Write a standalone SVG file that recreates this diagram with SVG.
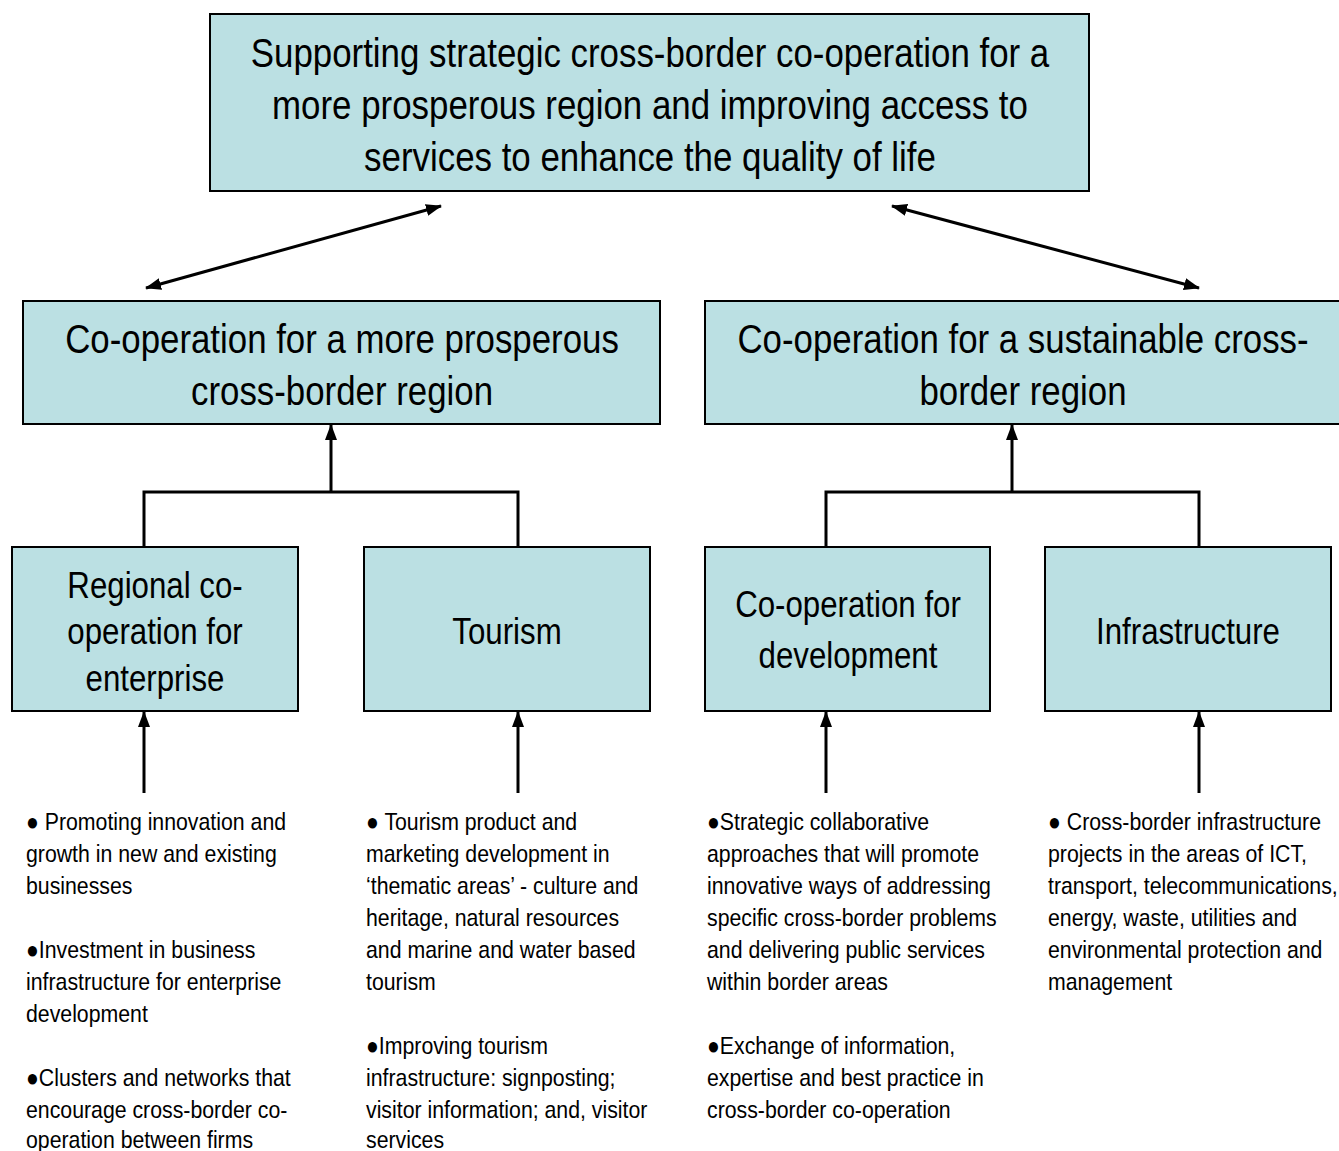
<svg xmlns="http://www.w3.org/2000/svg" width="1339" height="1151" viewBox="0 0 1339 1151">
<style>
.box{fill:#BBE0E3;stroke:#000;stroke-width:2}
.t{font-family:"Liberation Sans",Arial,sans-serif;fill:#000}
.h{font-size:40px;text-anchor:middle}
.m{font-size:36px;text-anchor:middle}
.b{font-size:24px}
.c{stroke:#000;stroke-width:3;fill:none}
</style>
<defs>
<marker id="ah" viewBox="0 0 16 12" refX="15" refY="6" markerWidth="16" markerHeight="12" markerUnits="userSpaceOnUse" orient="auto-start-reverse">
<path d="M0,0 L16,6 L0,12 z" fill="#000"/>
</marker>
</defs>
<rect width="1339" height="1151" fill="#fff"/>
<g id="top">
<rect class="box" x="210" y="14" width="879" height="177"/>
<g transform="translate(650,0) scale(0.872,1)">
<text class="t h" x="0" y="67">Supporting strategic cross-border co-operation for a</text>
<text class="t h" x="0" y="119">more prosperous region and improving access to</text>
<text class="t h" x="0" y="171">services to enhance the quality of life</text>
</g>
</g>
<g id="prosperous">
<rect class="box" x="23" y="301" width="637" height="123"/>
<g transform="translate(342,0) scale(0.871,1)">
<text class="t h" x="0" y="353">Co-operation for a more prosperous</text>
<text class="t h" x="0" y="405">cross-border region</text>
</g>
</g>
<g id="sustainable">
<rect class="box" x="705" y="301" width="640" height="123"/>
<g transform="translate(1023,0) scale(0.871,1)">
<text class="t h" x="0" y="353">Co-operation for a sustainable cross-</text>
<text class="t h" x="0" y="405">border region</text>
</g>
</g>
<g id="enterprise">
<rect class="box" x="12" y="547" width="286" height="164"/>
<g transform="translate(155,0) scale(0.868,1)">
<text class="t m" x="0" y="598">Regional co-</text>
<text class="t m" x="0" y="644">operation for</text>
<text class="t m" x="0" y="691">enterprise</text>
</g>
</g>
<g id="tourism">
<rect class="box" x="364" y="547" width="286" height="164"/>
<g transform="translate(507,0) scale(0.868,1)">
<text class="t m" x="0" y="644">Tourism</text>
</g>
</g>
<g id="development">
<rect class="box" x="705" y="547" width="285" height="164"/>
<g transform="translate(848,0) scale(0.868,1)">
<text class="t m" x="0" y="617">Co-operation for</text>
<text class="t m" x="0" y="668">development</text>
</g>
</g>
<g id="infrastructure">
<rect class="box" x="1045" y="547" width="286" height="164"/>
<g transform="translate(1188,0) scale(0.868,1)">
<text class="t m" x="0" y="644">Infrastructure</text>
</g>
</g>
<g id="connectors">
<line class="c" x1="146" y1="288" x2="441" y2="206" marker-start="url(#ah)" marker-end="url(#ah)"/>
<line class="c" x1="892" y1="206" x2="1199" y2="288" marker-start="url(#ah)" marker-end="url(#ah)"/>
<line class="c" x1="331" y1="492" x2="331" y2="425" marker-end="url(#ah)"/>
<path class="c" d="M144,547 V492 H518 V547"/>
<line class="c" x1="1012" y1="492" x2="1012" y2="425" marker-end="url(#ah)"/>
<path class="c" d="M826,547 V492 H1199 V547"/>
<line class="c" x1="144" y1="793" x2="144" y2="712" marker-end="url(#ah)"/>
<line class="c" x1="518" y1="793" x2="518" y2="712" marker-end="url(#ah)"/>
<line class="c" x1="826" y1="793" x2="826" y2="712" marker-end="url(#ah)"/>
<line class="c" x1="1199" y1="793" x2="1199" y2="712" marker-end="url(#ah)"/>
</g>
<g id="list-enterprise" class="t b" transform="translate(26,0) scale(0.887,1)">
<text x="0" y="830">● Promoting innovation and</text>
<text x="0" y="862">growth in new and existing</text>
<text x="0" y="894">businesses</text>
<text x="0" y="958">●Investment in business</text>
<text x="0" y="990">infrastructure for enterprise</text>
<text x="0" y="1022">development</text>
<text x="0" y="1086">●Clusters and networks that</text>
<text x="0" y="1118">encourage cross-border co-</text>
<text x="0" y="1148">operation between firms</text>
</g>
<g id="list-tourism" class="t b" transform="translate(366,0) scale(0.887,1)">
<text x="0" y="830">● Tourism product and</text>
<text x="0" y="862">marketing development in</text>
<text x="0" y="894">‘thematic areas’ - culture and</text>
<text x="0" y="926">heritage, natural resources</text>
<text x="0" y="958">and marine and water based</text>
<text x="0" y="990">tourism</text>
<text x="0" y="1054">●Improving tourism</text>
<text x="0" y="1086">infrastructure: signposting;</text>
<text x="0" y="1118">visitor information; and, visitor</text>
<text x="0" y="1148">services</text>
</g>
<g id="list-development" class="t b" transform="translate(707,0) scale(0.887,1)">
<text x="0" y="830">●Strategic collaborative</text>
<text x="0" y="862">approaches that will promote</text>
<text x="0" y="894">innovative ways of addressing</text>
<text x="0" y="926">specific cross-border problems</text>
<text x="0" y="958">and delivering public services</text>
<text x="0" y="990">within border areas</text>
<text x="0" y="1054">●Exchange of information,</text>
<text x="0" y="1086">expertise and best practice in</text>
<text x="0" y="1118">cross-border co-operation</text>
</g>
<g id="list-infrastructure" class="t b" transform="translate(1048,0) scale(0.887,1)">
<text x="0" y="830">● Cross-border infrastructure</text>
<text x="0" y="862">projects in the areas of ICT,</text>
<text x="0" y="894">transport, telecommunications,</text>
<text x="0" y="926">energy, waste, utilities and</text>
<text x="0" y="958">environmental protection and</text>
<text x="0" y="990">management</text>
</g>
</svg>
